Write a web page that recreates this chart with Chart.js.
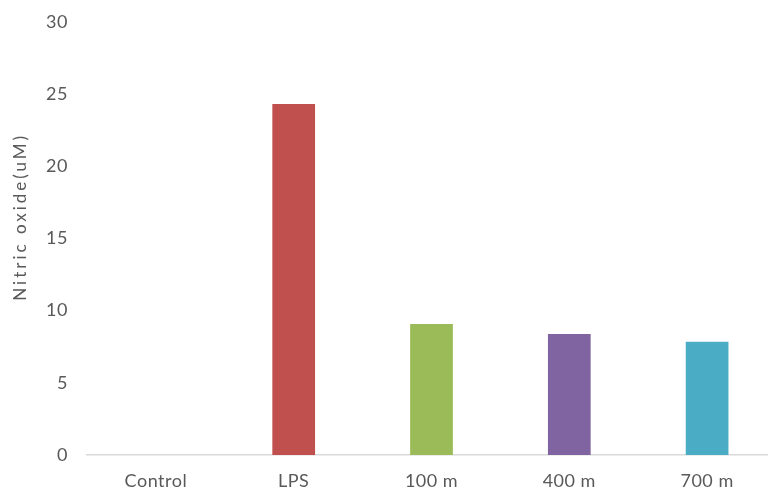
<!DOCTYPE html>
<html>
<head>
<meta charset="utf-8">
<script src="https://cdn.jsdelivr.net/npm/chart.js@4/dist/chart.umd.min.js"></script>
<style>
html,body{margin:0;padding:0;background:#fff;overflow:hidden;}
#wrap{position:relative;width:776px;height:492px;}
</style>
</head>
<body>
<div id="wrap"><canvas id="c" width="776" height="492"></canvas></div>
<script>
const categories = ["Control", "LPS", "100 m", "400 m", "700 m"];
const values = [0, 24.32, 9.08, 8.39, 7.85];
const barColors = ["#4F81BD", "#C0504D", "#9BBB59", "#8064A2", "#4BACC6"];
const yTicks = [0, 5, 10, 15, 20, 25, 30];
const yTitle = "Nitric oxide(uM)";

const FONT = "Lato";
const TXT = "#595959";

const spacingPlugin = {
  id: 'spacing',
  beforeDraw(chart) { chart.ctx.letterSpacing = "0.5px"; }
};

// y-axis title, drawn as canvas text with wide letter spacing (as in the reference)
const yTitlePlugin = {
  id: 'ytitle',
  afterDraw(chart) {
    const ctx = chart.ctx;
    const area = chart.chartArea;
    ctx.save();
    ctx.letterSpacing = "3px";
    ctx.font = "17px " + FONT;
    ctx.fillStyle = TXT;
    ctx.textAlign = "center";
    ctx.textBaseline = "middle";
    ctx.translate(21, area.top + (area.bottom - area.top) * 0.45);
    ctx.rotate(-Math.PI / 2);
    ctx.fillText(yTitle, 0, 0);
    ctx.restore();
  }
};

new Chart(document.getElementById('c'), {
  type: 'bar',
  data: {
    labels: categories,
    datasets: [{
      data: values,
      backgroundColor: barColors,
      borderWidth: 0,
      categoryPercentage: 1,
      barPercentage: 0.31
    }]
  },
  options: {
    responsive: false,
    animation: false,
    devicePixelRatio: 1,
    layout: { padding: { top: 22, left: 0, right: 0, bottom: 0 } },
    plugins: { legend: { display: false }, tooltip: { enabled: false } },
    scales: {
      x: {
        grid: { display: false, drawTicks: false },
        border: { display: true, color: "#D9D9D9", width: 1.5 },
        ticks: { color: TXT, font: { family: FONT, size: 18 }, padding: 15, maxRotation: 0 },
        afterFit(s) { s.height = 37; s.paddingLeft = 0; s.paddingRight = 0; }
      },
      y: {
        min: 0, max: 30,
        afterBuildTicks(s) { s.ticks = yTicks.map(v => ({ value: v })); },
        grid: { display: false, drawTicks: false },
        border: { display: false },
        ticks: { color: TXT, font: { family: FONT, size: 18 }, padding: 19 },
        afterFit(s) { s.width = 87; s.paddingTop = 0; s.paddingBottom = 0; }
      }
    }
  },
  plugins: [spacingPlugin, yTitlePlugin]
});
</script>
</body>
</html>
